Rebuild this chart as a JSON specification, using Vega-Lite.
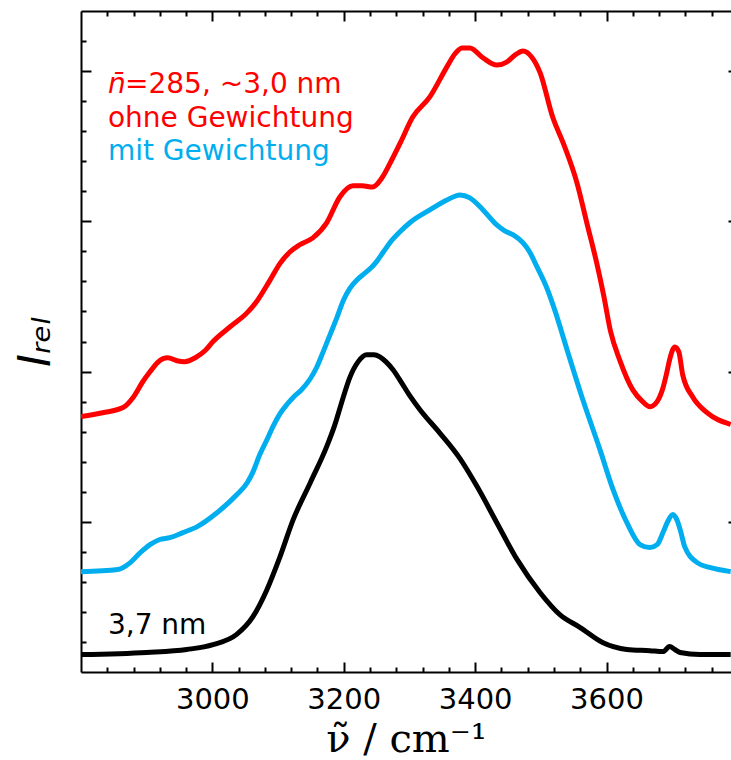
{
  "$schema": "https://vega.github.io/schema/vega-lite/v6.json",
  "autosize": {"type": "none"},
  "padding": {"left": 81, "top": 11, "right": 0, "bottom": 88},
  "width": 650,
  "height": 661,
  "background": "white",
  "config": {
    "view": {"stroke": null},
    "axis": {
      "domainColor": "black",
      "domainWidth": 2,
      "tickColor": "black",
      "tickWidth": 2,
      "grid": false,
      "labelColor": "black",
      "titleColor": "black",
      "titleFontWeight": "normal"
    }
  },
  "datasets": {
    "spectra": [
      {"series": "ohne Gewichtung", "nu": 2800, "I": 8.50},
      {"series": "ohne Gewichtung", "nu": 2833, "I": 8.63},
      {"series": "ohne Gewichtung", "nu": 2864, "I": 8.80},
      {"series": "ohne Gewichtung", "nu": 2879, "I": 9.13},
      {"series": "ohne Gewichtung", "nu": 2894, "I": 9.66},
      {"series": "ohne Gewichtung", "nu": 2905, "I": 9.99},
      {"series": "ohne Gewichtung", "nu": 2916, "I": 10.29},
      {"series": "ohne Gewichtung", "nu": 2925, "I": 10.43},
      {"series": "ohne Gewichtung", "nu": 2932, "I": 10.46},
      {"series": "ohne Gewichtung", "nu": 2946, "I": 10.36},
      {"series": "ohne Gewichtung", "nu": 2958, "I": 10.33},
      {"series": "ohne Gewichtung", "nu": 2974, "I": 10.46},
      {"series": "ohne Gewichtung", "nu": 2989, "I": 10.70},
      {"series": "ohne Gewichtung", "nu": 3001, "I": 11.00},
      {"series": "ohne Gewichtung", "nu": 3027, "I": 11.49},
      {"series": "ohne Gewichtung", "nu": 3053, "I": 11.96},
      {"series": "ohne Gewichtung", "nu": 3068, "I": 12.35},
      {"series": "ohne Gewichtung", "nu": 3088, "I": 13.05},
      {"series": "ohne Gewichtung", "nu": 3103, "I": 13.60},
      {"series": "ohne Gewichtung", "nu": 3118, "I": 13.98},
      {"series": "ohne Gewichtung", "nu": 3133, "I": 14.22},
      {"series": "ohne Gewichtung", "nu": 3153, "I": 14.45},
      {"series": "ohne Gewichtung", "nu": 3174, "I": 14.95},
      {"series": "ohne Gewichtung", "nu": 3194, "I": 15.81},
      {"series": "ohne Gewichtung", "nu": 3214, "I": 16.18},
      {"series": "ohne Gewichtung", "nu": 3228, "I": 16.18},
      {"series": "ohne Gewichtung", "nu": 3244, "I": 16.14},
      {"series": "ohne Gewichtung", "nu": 3258, "I": 16.44},
      {"series": "ohne Gewichtung", "nu": 3273, "I": 17.04},
      {"series": "ohne Gewichtung", "nu": 3286, "I": 17.61},
      {"series": "ohne Gewichtung", "nu": 3305, "I": 18.47},
      {"series": "ohne Gewichtung", "nu": 3331, "I": 19.14},
      {"series": "ohne Gewichtung", "nu": 3357, "I": 20.14},
      {"series": "ohne Gewichtung", "nu": 3369, "I": 20.57},
      {"series": "ohne Gewichtung", "nu": 3380, "I": 20.77},
      {"series": "ohne Gewichtung", "nu": 3392, "I": 20.77},
      {"series": "ohne Gewichtung", "nu": 3412, "I": 20.44},
      {"series": "ohne Gewichtung", "nu": 3433, "I": 20.20},
      {"series": "ohne Gewichtung", "nu": 3448, "I": 20.30},
      {"series": "ohne Gewichtung", "nu": 3461, "I": 20.54},
      {"series": "ohne Gewichtung", "nu": 3473, "I": 20.67},
      {"series": "ohne Gewichtung", "nu": 3486, "I": 20.47},
      {"series": "ohne Gewichtung", "nu": 3499, "I": 19.94},
      {"series": "ohne Gewichtung", "nu": 3518, "I": 18.47},
      {"series": "ohne Gewichtung", "nu": 3534, "I": 17.61},
      {"series": "ohne Gewichtung", "nu": 3555, "I": 16.28},
      {"series": "ohne Gewichtung", "nu": 3570, "I": 14.95},
      {"series": "ohne Gewichtung", "nu": 3585, "I": 13.62},
      {"series": "ohne Gewichtung", "nu": 3596, "I": 12.50},
      {"series": "ohne Gewichtung", "nu": 3606, "I": 11.35},
      {"series": "ohne Gewichtung", "nu": 3620, "I": 10.39},
      {"series": "ohne Gewichtung", "nu": 3640, "I": 9.39},
      {"series": "ohne Gewichtung", "nu": 3655, "I": 9.00},
      {"series": "ohne Gewichtung", "nu": 3666, "I": 8.83},
      {"series": "ohne Gewichtung", "nu": 3677, "I": 9.00},
      {"series": "ohne Gewichtung", "nu": 3686, "I": 9.46},
      {"series": "ohne Gewichtung", "nu": 3692, "I": 9.99},
      {"series": "ohne Gewichtung", "nu": 3696, "I": 10.39},
      {"series": "ohne Gewichtung", "nu": 3704, "I": 10.82},
      {"series": "ohne Gewichtung", "nu": 3710, "I": 10.66},
      {"series": "ohne Gewichtung", "nu": 3716, "I": 9.89},
      {"series": "ohne Gewichtung", "nu": 3731, "I": 9.16},
      {"series": "ohne Gewichtung", "nu": 3753, "I": 8.63},
      {"series": "ohne Gewichtung", "nu": 3789, "I": 8.24},
      {"series": "mit Gewichtung", "nu": 2800, "I": 3.34},
      {"series": "mit Gewichtung", "nu": 2856, "I": 3.41},
      {"series": "mit Gewichtung", "nu": 2875, "I": 3.64},
      {"series": "mit Gewichtung", "nu": 2890, "I": 3.97},
      {"series": "mit Gewichtung", "nu": 2905, "I": 4.24},
      {"series": "mit Gewichtung", "nu": 2920, "I": 4.41},
      {"series": "mit Gewichtung", "nu": 2935, "I": 4.47},
      {"series": "mit Gewichtung", "nu": 2955, "I": 4.64},
      {"series": "mit Gewichtung", "nu": 2977, "I": 4.84},
      {"series": "mit Gewichtung", "nu": 3007, "I": 5.30},
      {"series": "mit Gewichtung", "nu": 3037, "I": 5.90},
      {"series": "mit Gewichtung", "nu": 3053, "I": 6.30},
      {"series": "mit Gewichtung", "nu": 3062, "I": 6.67},
      {"series": "mit Gewichtung", "nu": 3072, "I": 7.23},
      {"series": "mit Gewichtung", "nu": 3083, "I": 7.73},
      {"series": "mit Gewichtung", "nu": 3092, "I": 8.16},
      {"series": "mit Gewichtung", "nu": 3103, "I": 8.60},
      {"series": "mit Gewichtung", "nu": 3114, "I": 8.92},
      {"series": "mit Gewichtung", "nu": 3123, "I": 9.14},
      {"series": "mit Gewichtung", "nu": 3135, "I": 9.38},
      {"series": "mit Gewichtung", "nu": 3149, "I": 9.76},
      {"series": "mit Gewichtung", "nu": 3159, "I": 10.15},
      {"series": "mit Gewichtung", "nu": 3168, "I": 10.62},
      {"series": "mit Gewichtung", "nu": 3179, "I": 11.22},
      {"series": "mit Gewichtung", "nu": 3190, "I": 11.82},
      {"series": "mit Gewichtung", "nu": 3199, "I": 12.35},
      {"series": "mit Gewichtung", "nu": 3209, "I": 12.76},
      {"series": "mit Gewichtung", "nu": 3220, "I": 13.05},
      {"series": "mit Gewichtung", "nu": 3229, "I": 13.22},
      {"series": "mit Gewichtung", "nu": 3240, "I": 13.42},
      {"series": "mit Gewichtung", "nu": 3250, "I": 13.66},
      {"series": "mit Gewichtung", "nu": 3260, "I": 13.97},
      {"series": "mit Gewichtung", "nu": 3270, "I": 14.28},
      {"series": "mit Gewichtung", "nu": 3286, "I": 14.66},
      {"series": "mit Gewichtung", "nu": 3301, "I": 14.96},
      {"series": "mit Gewichtung", "nu": 3331, "I": 15.38},
      {"series": "mit Gewichtung", "nu": 3357, "I": 15.71},
      {"series": "mit Gewichtung", "nu": 3377, "I": 15.88},
      {"series": "mit Gewichtung", "nu": 3392, "I": 15.78},
      {"series": "mit Gewichtung", "nu": 3412, "I": 15.38},
      {"series": "mit Gewichtung", "nu": 3433, "I": 14.88},
      {"series": "mit Gewichtung", "nu": 3445, "I": 14.68},
      {"series": "mit Gewichtung", "nu": 3458, "I": 14.55},
      {"series": "mit Gewichtung", "nu": 3473, "I": 14.28},
      {"series": "mit Gewichtung", "nu": 3483, "I": 13.98},
      {"series": "mit Gewichtung", "nu": 3494, "I": 13.49},
      {"series": "mit Gewichtung", "nu": 3509, "I": 12.79},
      {"series": "mit Gewichtung", "nu": 3521, "I": 12.06},
      {"series": "mit Gewichtung", "nu": 3540, "I": 10.72},
      {"series": "mit Gewichtung", "nu": 3564, "I": 9.06},
      {"series": "mit Gewichtung", "nu": 3590, "I": 7.40},
      {"series": "mit Gewichtung", "nu": 3610, "I": 6.07},
      {"series": "mit Gewichtung", "nu": 3631, "I": 4.97},
      {"series": "mit Gewichtung", "nu": 3651, "I": 4.24},
      {"series": "mit Gewichtung", "nu": 3666, "I": 4.14},
      {"series": "mit Gewichtung", "nu": 3677, "I": 4.24},
      {"series": "mit Gewichtung", "nu": 3686, "I": 4.64},
      {"series": "mit Gewichtung", "nu": 3693, "I": 5.00},
      {"series": "mit Gewichtung", "nu": 3701, "I": 5.24},
      {"series": "mit Gewichtung", "nu": 3707, "I": 5.07},
      {"series": "mit Gewichtung", "nu": 3713, "I": 4.67},
      {"series": "mit Gewichtung", "nu": 3719, "I": 4.17},
      {"series": "mit Gewichtung", "nu": 3738, "I": 3.64},
      {"series": "mit Gewichtung", "nu": 3757, "I": 3.48},
      {"series": "mit Gewichtung", "nu": 3789, "I": 3.34},
      {"series": "3,7 nm", "nu": 2800, "I": 0.58},
      {"series": "3,7 nm", "nu": 2900, "I": 0.65},
      {"series": "3,7 nm", "nu": 2961, "I": 0.75},
      {"series": "3,7 nm", "nu": 3001, "I": 0.91},
      {"series": "3,7 nm", "nu": 3037, "I": 1.25},
      {"series": "3,7 nm", "nu": 3062, "I": 1.85},
      {"series": "3,7 nm", "nu": 3083, "I": 2.74},
      {"series": "3,7 nm", "nu": 3103, "I": 3.84},
      {"series": "3,7 nm", "nu": 3123, "I": 5.07},
      {"series": "3,7 nm", "nu": 3149, "I": 6.30},
      {"series": "3,7 nm", "nu": 3174, "I": 7.50},
      {"series": "3,7 nm", "nu": 3186, "I": 8.20},
      {"series": "3,7 nm", "nu": 3199, "I": 9.13},
      {"series": "3,7 nm", "nu": 3209, "I": 9.79},
      {"series": "3,7 nm", "nu": 3222, "I": 10.33},
      {"series": "3,7 nm", "nu": 3235, "I": 10.56},
      {"series": "3,7 nm", "nu": 3246, "I": 10.56},
      {"series": "3,7 nm", "nu": 3255, "I": 10.49},
      {"series": "3,7 nm", "nu": 3264, "I": 10.33},
      {"series": "3,7 nm", "nu": 3275, "I": 10.06},
      {"series": "3,7 nm", "nu": 3286, "I": 9.70},
      {"series": "3,7 nm", "nu": 3301, "I": 9.18},
      {"series": "3,7 nm", "nu": 3316, "I": 8.73},
      {"series": "3,7 nm", "nu": 3346, "I": 7.96},
      {"series": "3,7 nm", "nu": 3377, "I": 7.10},
      {"series": "3,7 nm", "nu": 3403, "I": 6.17},
      {"series": "3,7 nm", "nu": 3433, "I": 4.97},
      {"series": "3,7 nm", "nu": 3464, "I": 3.74},
      {"series": "3,7 nm", "nu": 3499, "I": 2.64},
      {"series": "3,7 nm", "nu": 3529, "I": 1.91},
      {"series": "3,7 nm", "nu": 3560, "I": 1.48},
      {"series": "3,7 nm", "nu": 3594, "I": 0.98},
      {"series": "3,7 nm", "nu": 3631, "I": 0.75},
      {"series": "3,7 nm", "nu": 3666, "I": 0.71},
      {"series": "3,7 nm", "nu": 3686, "I": 0.68},
      {"series": "3,7 nm", "nu": 3696, "I": 0.85},
      {"series": "3,7 nm", "nu": 3704, "I": 0.75},
      {"series": "3,7 nm", "nu": 3712, "I": 0.65},
      {"series": "3,7 nm", "nu": 3742, "I": 0.58},
      {"series": "3,7 nm", "nu": 3789, "I": 0.58}
    ],
    "notes": [
      {"series": "ohne Gewichtung", "label": "=285, ~3,0 nm", "nu": 2867, "I": 19.27},
      {"series": "ohne Gewichtung", "label": "ohne Gewichtung", "nu": 2841, "I": 18.14},
      {"series": "mit Gewichtung", "label": "mit Gewichtung", "nu": 2841, "I": 17.04},
      {"series": "3,7 nm", "label": "3,7 nm", "nu": 2841, "I": 1.25}
    ],
    "symbol": [
      {"series": "ohne Gewichtung", "label": "n̄", "nu": 2841, "I": 19.27}
    ]
  },
  "resolve": {"axis": {"x": "independent", "y": "independent"}},
  "layer": [
    {
      "data": {"name": "spectra"},
      "mark": {"type": "line", "strokeWidth": 5, "interpolate": "monotone", "clip": true},
      "encoding": {
        "x": {
          "field": "nu", "type": "quantitative",
          "scale": {"domain": [2800, 3789.5], "nice": false, "zero": false},
          "axis": {
            "orient": "bottom",
            "values": [2840, 2880, 2920, 2960, 3000, 3040, 3080, 3120, 3160, 3200, 3240, 3280, 3320, 3360, 3400, 3440, 3480, 3520, 3560, 3600, 3640, 3680, 3720, 3760],
            "format": "d",
            "labelExpr": "datum.value % 200 === 0 ? datum.label : ''",
            "tickSize": {"condition": {"test": "datum.value % 200 === 0", "value": -10}, "value": -5},
            "labelFont": "DejaVu Sans",
            "labelFontSize": 29,
            "labelPadding": 23,
            "title": "ν̃  /  cm⁻¹",
            "titleFont": "DejaVu Serif",
            "titleFontSize": 40,
            "titlePadding": 5
          }
        },
        "y": {
          "field": "I", "type": "quantitative",
          "scale": {"domain": [0, 22], "nice": false, "zero": false},
          "axis": {
            "orient": "left",
            "values": [1, 2, 3, 4, 5, 6, 7, 8, 9, 10, 11, 12, 13, 14, 15, 16, 17, 18, 19, 20, 21],
            "labels": false,
            "tickSize": {"condition": {"test": "datum.value % 5 === 0", "value": -10}, "value": -5},
            "title": "Iᵣₑₗ",
            "titleFont": "DejaVu Sans",
            "titleFontStyle": "italic",
            "titleFontSize": 44,
            "titlePadding": 22
          }
        },
        "color": {
          "field": "series", "type": "nominal",
          "scale": {"domain": ["ohne Gewichtung", "mit Gewichtung", "3,7 nm"], "range": ["#ff0000", "#00aeef", "#000000"]},
          "legend": null
        }
      }
    },
    {
      "data": {"name": "notes"},
      "mark": {"type": "text", "align": "left", "baseline": "alphabetic", "font": "DejaVu Sans", "fontSize": 28},
      "encoding": {
        "x": {
          "field": "nu", "type": "quantitative",
          "axis": {
            "orient": "top",
            "values": [2840, 2880, 2920, 2960, 3000, 3040, 3080, 3120, 3160, 3200, 3240, 3280, 3320, 3360, 3400, 3440, 3480, 3520, 3560, 3600, 3640, 3680, 3720, 3760],
            "labels": false,
            "title": null,
            "tickSize": {"condition": {"test": "datum.value % 200 === 0", "value": -10}, "value": -5}
          }
        },
        "y": {
          "field": "I", "type": "quantitative",
          "axis": {
            "orient": "right",
            "offset": 7,
            "values": [1, 2, 3, 4, 5, 6, 7, 8, 9, 10, 11, 12, 13, 14, 15, 16, 17, 18, 19, 20, 21],
            "labels": false,
            "title": null,
            "tickSize": {"condition": {"test": "datum.value % 5 === 0", "value": -10}, "value": -5}
          }
        },
        "text": {"field": "label"},
        "color": {"field": "series", "type": "nominal", "legend": null}
      }
    },
    {
      "data": {"name": "symbol"},
      "mark": {"type": "text", "align": "left", "baseline": "alphabetic", "font": "DejaVu Sans", "fontSize": 28, "fontStyle": "italic"},
      "encoding": {
        "x": {"field": "nu", "type": "quantitative", "axis": null},
        "y": {"field": "I", "type": "quantitative", "axis": null},
        "text": {"field": "label"},
        "color": {"field": "series", "type": "nominal", "legend": null}
      }
    }
  ]
}
